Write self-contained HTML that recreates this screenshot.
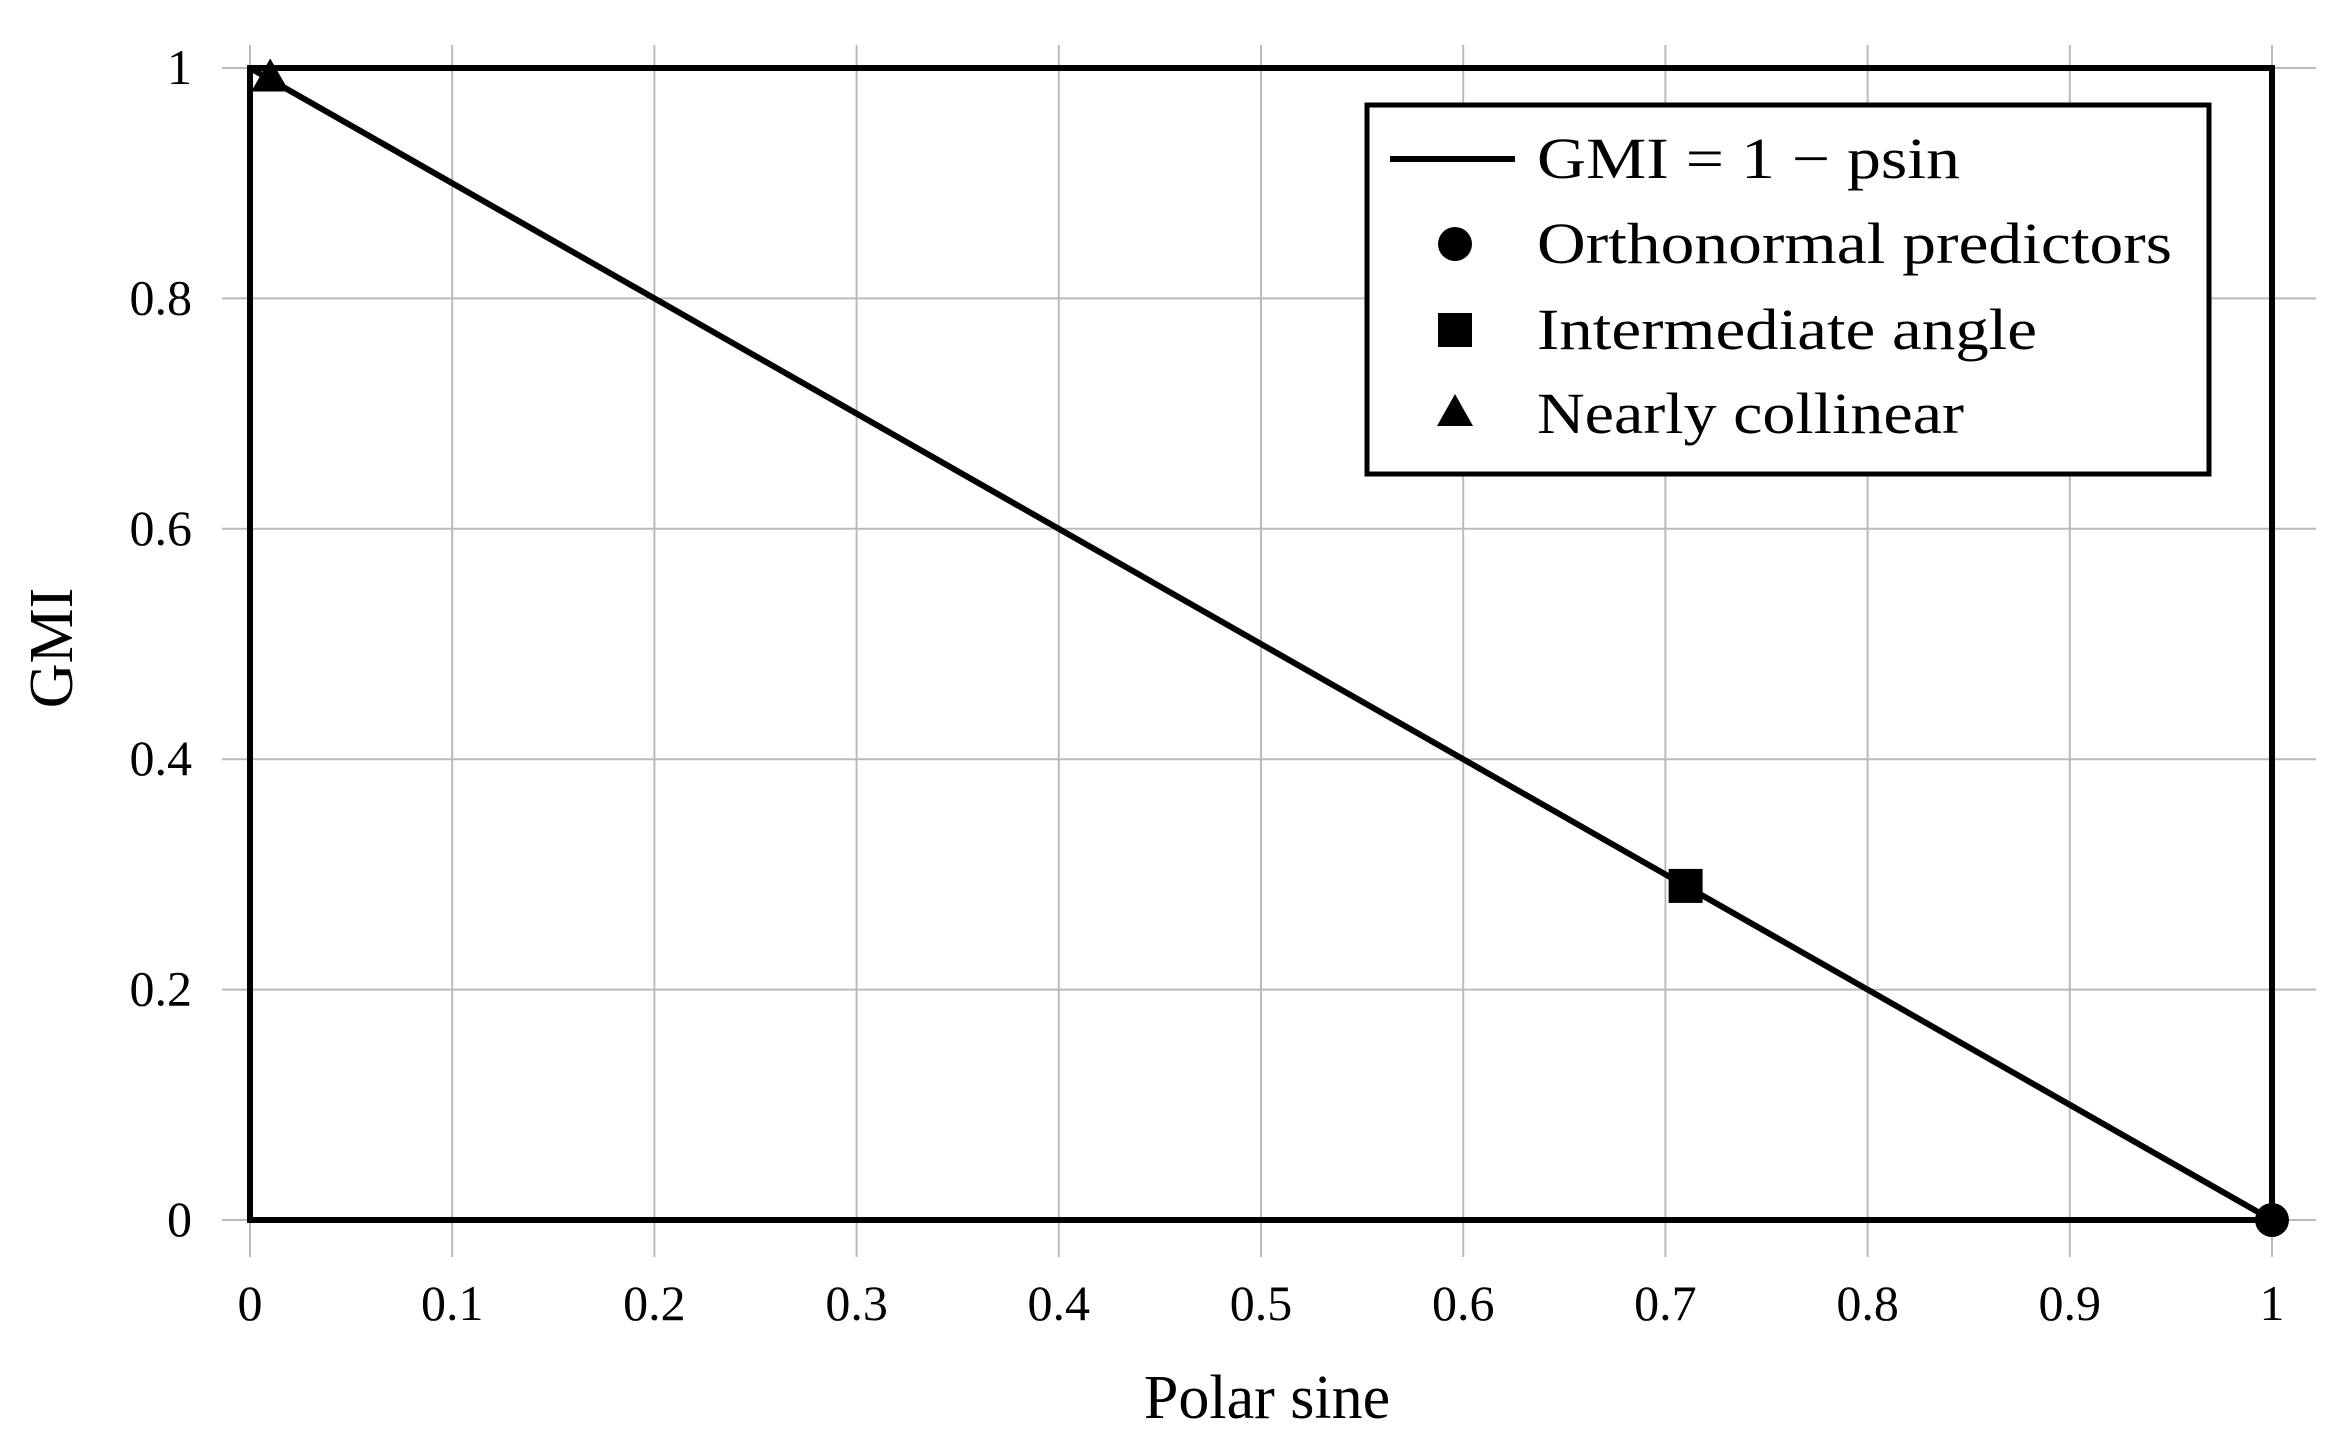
<!DOCTYPE html>
<html><head><meta charset="utf-8"><style>
html,body{margin:0;padding:0;background:#fff;}
svg{display:block;font-family:"Liberation Serif",serif;}
</style></head><body>
<svg id="chart" width="2339" height="1448" viewBox="0 0 2339 1448" xmlns="http://www.w3.org/2000/svg"></svg>
<script>
const xTicks=[0,0.1,0.2,0.3,0.4,0.5,0.6,0.7,0.8,0.9,1];
const xTickLabels=["0","0.1","0.2","0.3","0.4","0.5","0.6","0.7","0.8","0.9","1"];
const yTicks=[0,0.2,0.4,0.6,0.8,1];
const yTickLabels=["0","0.2","0.4","0.6","0.8","1"];
const lineX=[0,1];
const lineY=[1,0];
const circleX=[1];const circleY=[0];
const squareX=[0.71];const squareY=[0.29];
const triX=[0.01];const triY=[0.99];

const NS="http://www.w3.org/2000/svg";
const svg=document.getElementById('chart');
const X0=250,X1=2272,Y0=1220,Y1=68;
const sx=v=>X0+(X1-X0)*v;
const sy=v=>Y0-(Y0-Y1)*v;
function mk(t,a){const e=document.createElementNS(NS,t);for(const k in a)e.setAttribute(k,a[k]);svg.appendChild(e);return e;}

xTicks.forEach((v,i)=>{
  const g=mk('line',{x1:sx(v),x2:sx(v),y1:45,y2:1257,stroke:'#bbb','stroke-width':2});
  
  
  const t=mk('text',{x:sx(v),y:1320,'text-anchor':'middle','font-size':50});
  t.textContent=xTickLabels[i];
  
  
});
yTicks.forEach((v,i)=>{
  const g=mk('line',{x1:222,x2:2316,y1:sy(v),y2:sy(v),stroke:'#bbb','stroke-width':2});
  
  
  const t=mk('text',{x:192,y:sy(v)+16,'text-anchor':'end','font-size':50});
  t.textContent=yTickLabels[i];
  
  
});
const frame=mk('rect',{x:X0,y:Y1,width:X1-X0,height:Y0-Y1,fill:'none',stroke:'#000','stroke-width':6});



const ln=mk('polyline',{points:lineX.map((x,i)=>sx(x)+','+sy(lineY[i])).join(' '),fill:'none',stroke:'#000','stroke-width':6});



circleX.forEach((x,i)=>{const c=mk('circle',{cx:sx(x),cy:sy(circleY[i]),r:17,fill:'#000'});

});
squareX.forEach((x,i)=>{const r=mk('rect',{x:sx(x)-17,y:sy(squareY[i])-17,width:34,height:34,fill:'#000'});

});
triX.forEach((x,i)=>{const cx=sx(x),cy=sy(triY[i]);const p=mk('polygon',{points:`${cx},${cy-21} ${cx-19},${cy+12} ${cx+19},${cy+12}`,fill:'#000'});

});

const xt=mk('text',{x:1267,y:1418,'text-anchor':'middle','font-size':62});xt.textContent='Polar sine';


const yt=mk('text',{x:0,y:0,'text-anchor':'middle','font-size':62,transform:'translate(72,648) rotate(-90)'});yt.textContent='GMI';



const lg=mk('rect',{x:1367,y:105,width:842,height:369,fill:'#fff',stroke:'#000','stroke-width':5});


const rows=[159,244,330,414];
const labels=['GMI = 1 − psin','Orthonormal predictors','Intermediate angle','Nearly collinear'];
const ls=mk('line',{x1:1390,x2:1515,y1:rows[0],y2:rows[0],stroke:'#000','stroke-width':6});


const lc=mk('circle',{cx:1455,cy:rows[1],r:17,fill:'#000'});


const lsq=mk('rect',{x:1438,y:rows[2]-17,width:34,height:34,fill:'#000'});


const lt=mk('polygon',{points:`1455,${rows[3]-20} 1437,${rows[3]+12} 1473,${rows[3]+12}`,fill:'#000'});


labels.forEach((s,i)=>{const t=mk('text',{x:1537,y:rows[i]+19,'font-size':58,textLength:(i==0?423:i==1?635:i==2?500:427),lengthAdjust:'spacingAndGlyphs'});t.textContent=s;

});
</script>
</body></html>
